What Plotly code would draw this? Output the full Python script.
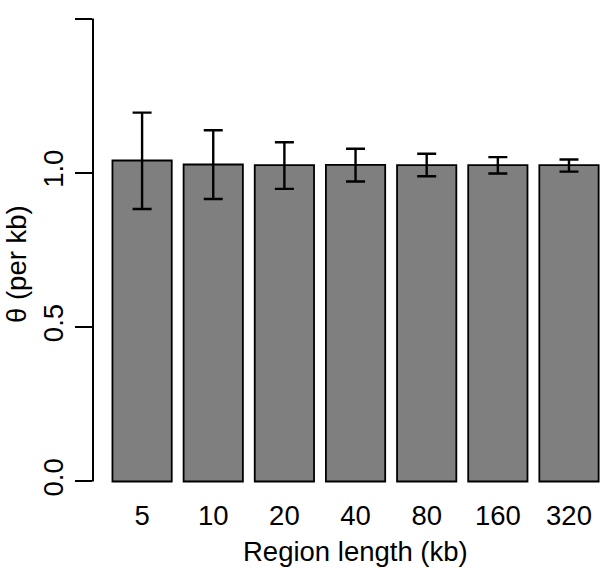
import plotly.graph_objects as go

categories = ["5", "10", "20", "40", "80", "160", "320"]
theta_mean = [1.040, 1.027, 1.025, 1.026, 1.025, 1.025, 1.025]
theta_upper = [1.195, 1.138, 1.099, 1.078, 1.062, 1.051, 1.043]
theta_lower = [0.883, 0.915, 0.948, 0.972, 0.989, 0.998, 1.004]
y_ticks = [0.0, 0.5, 1.0, 1.5]
y_tick_labels = ["0.0", "0.5", "1.0", "1.5"]

# R barplot layout: width 1, space 0.2
centers = [0.7 + 1.2 * i for i in range(len(categories))]
err_plus = [u - m for u, m in zip(theta_upper, theta_mean)]
err_minus = [m - l for m, l in zip(theta_mean, theta_lower)]

FONT = "Liberation Sans, Arial, Helvetica, sans-serif"
FS = 27.5

fig = go.Figure()
fig.add_trace(go.Bar(
    x=centers, y=theta_mean, width=1.0,
    marker=dict(color="#7f7f7f", line=dict(color="black", width=1.8)),
    error_y=dict(type="data", symmetric=False, array=err_plus, arrayminus=err_minus,
                 color="black", thickness=2.4, width=9.5),
    hoverinfo="skip",
))

fig.update_layout(
    width=600, height=568,
    margin=dict(l=93, r=0, t=0, b=68, autoexpand=False),
    paper_bgcolor="white", plot_bgcolor="white",
    showlegend=False,
    font=dict(family=FONT, size=FS, color="black"),
    xaxis=dict(range=[-0.128, 8.423], tickvals=centers, ticktext=categories,
               showgrid=False, zeroline=False, showline=False, ticks="",
               ticklabelstandoff=-4,
               tickfont=dict(family=FONT, size=FS, color="black"), automargin=False),
    yaxis=dict(range=[-0.06, 1.56], tickvals=y_ticks, ticktext=y_tick_labels,
               showgrid=False, zeroline=False, showline=False,
               ticks="outside", ticklen=17, tickwidth=2, tickcolor="black",
               tickangle=-90, ticklabelstandoff=1,
               tickfont=dict(family=FONT, size=FS, color="black"), automargin=False),
    shapes=[dict(type="line", xref="paper", yref="y", x0=0, x1=0,
                 y0=y_ticks[0], y1=y_ticks[-1], line=dict(color="black", width=2))],
    annotations=[
        dict(text="Region length (kb)", xref="paper", yref="paper",
             x=(355 - 93) / 507, y=(500 - 551) / 500, xanchor="center", yanchor="middle",
             showarrow=False, font=dict(family=FONT, size=FS, color="black")),
        dict(text="θ (per kb)", xref="paper", yref="paper",
             x=(16 - 93) / 507, y=(500 - 264) / 500, xanchor="center", yanchor="middle",
             textangle=-90, showarrow=False, font=dict(family=FONT, size=FS, color="black")),
    ],
)

fig.write_html("out.html", config={"displayModeBar": False},
               post_script="document.body.style.margin='0';document.body.style.overflow='hidden';")
